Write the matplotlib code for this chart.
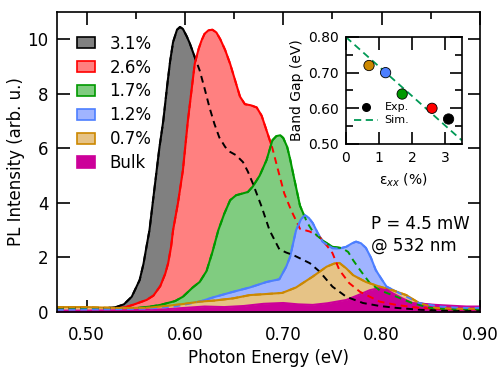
import matplotlib
matplotlib.use("Agg")
import matplotlib.pyplot as plt
from matplotlib.patches import Patch
from matplotlib.ticker import MultipleLocator, FormatStrFormatter

# PL spectra (photon energy in eV, intensity in arb. u.)
e_31 = [0.470, 0.500, 0.520, 0.530, 0.538, 0.546, 0.554, 0.558, 0.561, 0.564, 0.567, 0.570,
        0.574, 0.578, 0.582, 0.585, 0.588, 0.592, 0.595, 0.598, 0.602, 0.605, 0.610, 0.615,
        0.620, 0.625, 0.630, 0.635, 0.641, 0.646, 0.652, 0.659, 0.664, 0.669, 0.678, 0.686,
        0.696, 0.703, 0.710, 0.718, 0.727, 0.737, 0.750, 0.764, 0.781, 0.798, 0.815, 0.840,
        0.870, 0.900]
i_31 = [0.15, 0.15, 0.14, 0.18, 0.28, 0.56, 1.17, 1.78, 2.4, 3.0, 3.9, 4.8,
        6.0, 7.0, 8.3, 9.2, 9.9, 10.35, 10.45, 10.38, 10.1, 9.85, 9.35, 8.86,
        8.2, 7.5, 6.9, 6.4, 6.05, 5.87, 5.75, 5.5, 5.15, 4.72, 3.86, 3.0,
        2.3, 2.18, 2.09, 1.95, 1.79, 1.48, 0.93, 0.56, 0.33, 0.22, 0.15, 0.08,
        0.05, 0.05]

e_26 = [0.470, 0.500, 0.530, 0.540, 0.547, 0.554, 0.561, 0.568, 0.575, 0.580, 0.583, 0.586,
        0.588, 0.593, 0.598, 0.603, 0.607, 0.610, 0.614, 0.617, 0.620, 0.624, 0.628, 0.632,
        0.636, 0.641, 0.646, 0.651, 0.656, 0.661, 0.667, 0.673, 0.678, 0.684, 0.689, 0.694,
        0.701, 0.708, 0.717, 0.727, 0.737, 0.745, 0.750, 0.757, 0.767, 0.778, 0.788, 0.798,
        0.815, 0.838, 0.870, 0.900]
i_26 = [0.12, 0.12, 0.13, 0.18, 0.26, 0.35, 0.44, 0.6, 0.95, 1.4, 1.79, 2.4,
        3.0, 4.0, 5.2, 7.0, 8.2, 9.1, 9.65, 9.96, 10.2, 10.33, 10.35, 10.25,
        10.0, 9.6, 9.1, 8.5, 7.9, 7.62, 7.58, 7.5, 7.2, 6.55, 6.0, 5.3,
        4.35, 3.73, 3.05, 2.95, 2.75, 2.4, 2.16, 1.54, 1.06, 0.74, 0.56, 0.38,
        0.26, 0.15, 0.1, 0.1]

e_17 = [0.470, 0.520, 0.550, 0.565, 0.575, 0.590, 0.598, 0.608, 0.615, 0.622, 0.628, 0.634,
        0.640, 0.646, 0.652, 0.659, 0.664, 0.669, 0.676, 0.683, 0.689, 0.693, 0.697, 0.700,
        0.704, 0.707, 0.710, 0.717, 0.724, 0.730, 0.740, 0.750, 0.760, 0.766, 0.771, 0.778,
        0.788, 0.798, 0.815, 0.831, 0.849, 0.870, 0.900]
i_17 = [0.1, 0.12, 0.14, 0.2, 0.26, 0.4, 0.56, 0.9, 1.1, 1.5, 2.2, 3.0,
        3.6, 4.1, 4.28, 4.35, 4.4, 4.6, 5.0, 5.57, 6.3, 6.45, 6.48, 6.38,
        6.05, 5.6, 5.08, 3.9, 3.3, 2.95, 2.62, 2.39, 2.34, 2.2, 1.9, 1.54,
        1.06, 0.8, 0.56, 0.33, 0.15, 0.1, 0.1]

e_12 = [0.470, 0.520, 0.560, 0.590, 0.615, 0.630, 0.649, 0.666, 0.683, 0.696, 0.703, 0.707,
        0.713, 0.718, 0.722, 0.726, 0.730, 0.735, 0.740, 0.750, 0.757, 0.764, 0.770, 0.774,
        0.779, 0.784, 0.789, 0.794, 0.800, 0.805, 0.818, 0.838, 0.859, 0.880, 0.900]
i_12 = [0.08, 0.1, 0.12, 0.2, 0.38, 0.55, 0.74, 0.9, 1.1, 1.2, 1.66, 2.03,
        3.0, 3.4, 3.55, 3.45, 3.26, 2.9, 2.58, 2.34, 2.33, 2.39, 2.52, 2.58,
        2.52, 2.35, 2.0, 1.54, 1.2, 0.93, 0.69, 0.33, 0.2, 0.15, 0.15]

e_07 = [0.470, 0.500, 0.530, 0.560, 0.581, 0.600, 0.615, 0.630, 0.649, 0.666, 0.683, 0.699,
        0.713, 0.730, 0.744, 0.752, 0.757, 0.764, 0.771, 0.784, 0.798, 0.811, 0.825, 0.838,
        0.855, 0.875, 0.900]
i_07 = [0.18, 0.18, 0.15, 0.15, 0.22, 0.3, 0.38, 0.42, 0.5, 0.62, 0.66, 0.7,
        0.9, 1.3, 1.66, 1.78, 1.8, 1.6, 1.35, 1.1, 0.93, 0.8, 0.62, 0.33,
        0.15, 0.12, 0.12]

e_bulk = [0.470, 0.500, 0.550, 0.580, 0.600, 0.620, 0.640, 0.660, 0.680, 0.700, 0.715, 0.730,
          0.745, 0.764, 0.775, 0.788, 0.798, 0.805, 0.811, 0.821, 0.831, 0.855, 0.886, 0.900]
i_bulk = [0.05, 0.05, 0.07, 0.1, 0.15, 0.2, 0.18, 0.22, 0.3, 0.33, 0.28, 0.26,
          0.32, 0.44, 0.6, 0.8, 0.88, 0.82, 0.69, 0.5, 0.33, 0.26, 0.2, 0.2]

labels = ["3.1%", "2.6%", "1.7%", "1.2%", "0.7%", "Bulk"]
fills = ["#808080", "#ff8080", "#80cc80", "#a0b4ff", "#e6c386", "#cc0099"]
edges = ["#000000", "#ff0000", "#009900", "#4d7fff", "#cc8800", "#cc0099"]

# inset: band gap vs strain
strain = [0.7, 1.2, 1.7, 2.6, 3.1]
gap = [0.72, 0.70, 0.64, 0.60, 0.57]
gap_colors = ["#cc8800", "#4d7fff", "#009900", "#ff0000", "#000000"]
sim_strain = [0.0, 3.5]
sim_gap = [0.80, 0.51]

plt.rcParams["font.family"] = "DejaVu Sans"

fig = plt.figure(figsize=(4.99, 3.72), dpi=100)
ax = fig.add_axes([0.1142, 0.1613, 0.8478, 0.8064])

spectra = [(e_31, i_31), (e_26, i_26), (e_17, i_17), (e_12, i_12), (e_07, i_07), (e_bulk, i_bulk)]
for k, (e, i) in enumerate(spectra):
    ax.fill_between(e, 0, i, color=fills[k], lw=0, zorder=2 + 2 * k)
    ax.plot(e, i, color=edges[k], lw=1.5, zorder=3 + 2 * k, solid_joinstyle="round")
    if k < 5:
        ax.plot(e, i, color=edges[k], lw=1.4, ls=(0, (3.5, 2.5)), zorder=20)

ax.set_xlim(0.47, 0.90)
ax.set_ylim(0, 11)
ax.xaxis.set_major_locator(MultipleLocator(0.1))
ax.xaxis.set_minor_locator(MultipleLocator(0.05))
ax.yaxis.set_major_locator(MultipleLocator(2))
ax.xaxis.set_major_formatter(FormatStrFormatter("%.2f"))
ax.tick_params(which="both", direction="in", top=True, right=True, labelsize=12, width=1.2)
ax.tick_params(which="major", length=9)
ax.tick_params(axis="x", which="major", pad=10)
ax.tick_params(axis="y", which="major", pad=6)
ax.tick_params(which="minor", length=5)
for s in ax.spines.values():
    s.set_linewidth(1.2)
    s.set_zorder(30)
ax.set_xlabel("Photon Energy (eV)", fontsize=12, labelpad=4)
ax.set_ylabel("PL Intensity (arb. u.)", fontsize=12, labelpad=2)

handles = [Patch(facecolor=fills[k], edgecolor=edges[k], lw=1.2) for k in range(6)]
ax.legend(handles, labels, loc="upper left", bbox_to_anchor=(0.008, 0.98), frameon=False,
          fontsize=12, handlelength=1.1, handleheight=0.65, handletextpad=0.85,
          labelspacing=0.35, borderaxespad=0.6)

ax.text(0.976, 0.257, "P = 4.5 mW\n@ 532 nm", transform=ax.transAxes, ha="right", va="center",
        fontsize=12, multialignment="left", linespacing=1.25, zorder=40)

ins = fig.add_axes([0.693, 0.613, 0.2325, 0.2876])
ins.plot(sim_strain, sim_gap, color="#009955", lw=1.3, ls=(0, (4, 2.5)), label="Sim.")
ins.scatter(strain, gap, s=55, c=gap_colors, edgecolors="black", linewidths=0.6, zorder=5)
ins.scatter([], [], s=30, c="black", label="Exp.")
ins.set_xlim(0, 3.5)
ins.set_ylim(0.5, 0.8)
ins.xaxis.set_major_locator(MultipleLocator(1))
ins.yaxis.set_major_locator(MultipleLocator(0.1))
ins.yaxis.set_minor_locator(MultipleLocator(0.05))
ins.yaxis.set_major_formatter(FormatStrFormatter("%.2f"))
ins.tick_params(which="both", direction="in", top=True, right=True, labelsize=10, width=1.2)
ins.tick_params(which="major", length=9, pad=5)
ins.tick_params(which="minor", length=5)
for s in ins.spines.values():
    s.set_linewidth(1.2)
ins.set_xlabel("ε$_{xx}$ (%)", fontsize=10, labelpad=5)
ins.set_ylabel("Band Gap (eV)", fontsize=10, labelpad=3)
h, l = ins.get_legend_handles_labels()
ins.legend(h[::-1], l[::-1], loc="lower left", bbox_to_anchor=(0.0, 0.1), frameon=False,
           fontsize=8, handlelength=2.2, handletextpad=0.6, labelspacing=0.3, borderaxespad=0.3)

fig.savefig("out.png", dpi=100)
